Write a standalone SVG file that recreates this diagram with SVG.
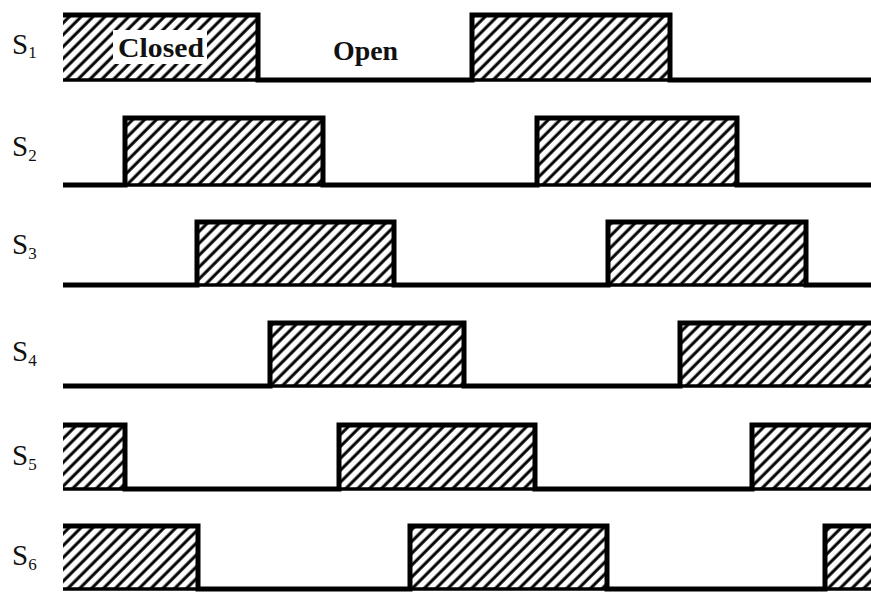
<svg xmlns="http://www.w3.org/2000/svg" width="871" height="592" viewBox="0 0 871 592">
<style>
.wave{fill:none;stroke:#000;stroke-width:5;stroke-linejoin:miter;stroke-linecap:butt}
.base{fill:none;stroke:#000;stroke-width:3.5}
.hatch{fill:url(#h)}
.lbl{font-family:"Liberation Serif","Times New Roman",serif;font-size:29px;fill:#111}
.sub{font-size:17px}
.txt{font-family:"Liberation Serif","Times New Roman",serif;font-size:27px;font-weight:bold;fill:#111}
</style>
<defs>
<pattern id="h" patternUnits="userSpaceOnUse" width="8.4" height="8.4" patternTransform="rotate(45)">
<rect width="8.4" height="8.4" fill="#fff"/>
<line x1="2" y1="0" x2="2" y2="8.4" stroke="#000" stroke-width="3"/>
</pattern>
</defs>
<rect width="871" height="592" fill="#fff"/>

<g id="row1">
<rect class="hatch" x="63" y="15" width="195" height="65"/>
<rect class="hatch" x="472" y="15" width="198" height="65"/>
<rect x="113" y="30" width="94" height="34" fill="#fff"/>
<text class="lbl" x="12" y="54">S<tspan class="sub" dy="4">1</tspan></text>
<text class="txt" x="118" y="57" textLength="86" lengthAdjust="spacingAndGlyphs">Closed</text>
<text class="txt" x="333" y="60" textLength="65" lengthAdjust="spacingAndGlyphs">Open</text>
</g>
<g id="row2">
<rect class="hatch" x="125" y="118" width="198" height="67"/>
<rect class="hatch" x="537" y="118" width="200" height="67"/>
<text class="lbl" x="12" y="156">S<tspan class="sub" dy="5">2</tspan></text>
</g>
<g id="row3">
<rect class="hatch" x="197" y="222" width="197" height="63"/>
<rect class="hatch" x="608" y="222" width="198" height="63"/>
<text class="lbl" x="12" y="254">S<tspan class="sub" dy="5">3</tspan></text>
</g>
<g id="row4">
<rect class="hatch" x="270" y="323" width="194" height="63"/>
<rect class="hatch" x="680" y="323" width="191" height="63"/>
<text class="lbl" x="12" y="361">S<tspan class="sub" dy="5">4</tspan></text>
</g>
<g id="row5">
<rect class="hatch" x="63" y="425" width="62" height="64"/>
<rect class="hatch" x="339" y="425" width="196" height="64"/>
<rect class="hatch" x="752" y="425" width="119" height="64"/>
<text class="lbl" x="12" y="465">S<tspan class="sub" dy="5">5</tspan></text>
</g>
<g id="row6">
<rect class="hatch" x="63" y="526" width="135" height="63"/>
<rect class="hatch" x="410" y="526" width="197" height="63"/>
<rect class="hatch" x="825" y="526" width="46" height="63"/>
<text class="lbl" x="12" y="565">S<tspan class="sub" dy="5">6</tspan></text>
</g>

<g id="connectors">
<path class="base" d="M63,80 H871 M63,185 H871 M63,285 H871 M63,386 H871 M63,489 H871 M63,589 H871"/>
<path class="wave" d="M63,15 H258 V80 H472 V15 H670 V80 H871"/>
<path class="wave" d="M63,185 H125 V118 H323 V185 H537 V118 H737 V185 H871"/>
<path class="wave" d="M63,285 H197 V222 H394 V285 H608 V222 H806 V285 H871"/>
<path class="wave" d="M63,386 H270 V323 H464 V386 H680 V323 H871"/>
<path class="wave" d="M63,425 H125 V489 H339 V425 H535 V489 H752 V425 H871"/>
<path class="wave" d="M63,526 H198 V589 H410 V526 H607 V589 H825 V526 H871"/>
</g>
</svg>
